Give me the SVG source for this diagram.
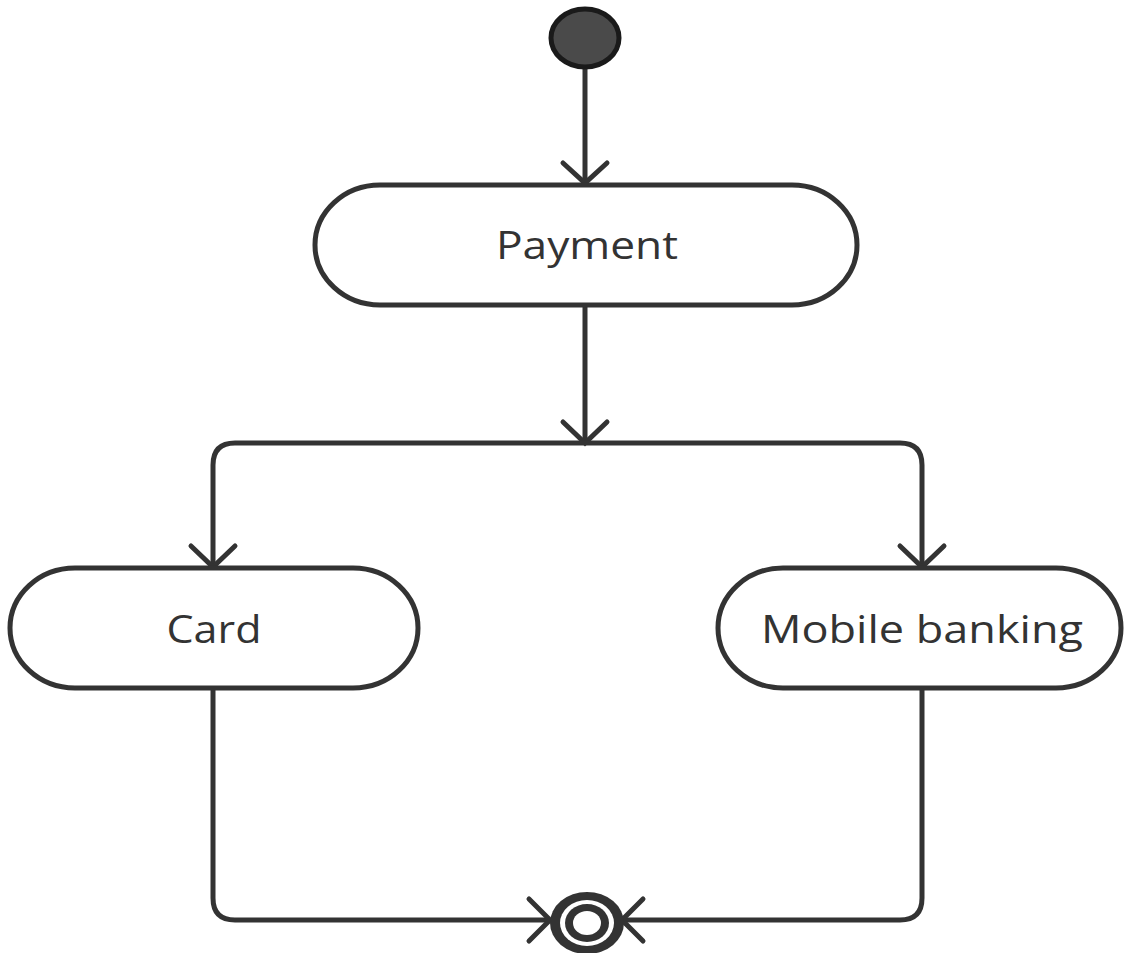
<svg xmlns="http://www.w3.org/2000/svg" width="1124" height="953" viewBox="0 0 1124 953">
  <style>
    .node { fill: #ffffff; stroke: #333333; stroke-width: 5; }
    .label { font-family: "Open Sans", "Noto Sans", sans-serif; font-size: 38px; fill: #333333; text-anchor: middle; }
    .edge { fill: none; stroke: #333333; stroke-width: 5; stroke-linejoin: round; }
    .head { fill: none; stroke: #333333; stroke-width: 5; stroke-linecap: round; stroke-linejoin: miter; }
  </style>
  <rect width="1124" height="953" fill="#ffffff"/>

  <g id="connectors">
    <!-- start to Payment -->
    <path class="edge" d="M585 68 V183"/>
    <polyline class="head" points="563,163 585,183 607,163"/>
    <!-- Payment to branch bar -->
    <path class="edge" d="M585 305 V443"/>
    <polyline class="head" points="563,422 585,443 607,422"/>
    <!-- branch to Card and Mobile banking -->
    <path class="edge" d="M585 443 H235 Q213 443 213 465 V566"/>
    <path class="edge" d="M585 443 H900 Q922 443 922 465 V566"/>
    <polyline class="head" points="191,546 213,567 235,546"/>
    <polyline class="head" points="900,546 922,567 944,546"/>
    <!-- Card to end -->
    <path class="edge" d="M213 688 V898 Q213 920 235 920 H550"/>
    <polyline class="head" points="529,899 550,920 529,941"/>
    <!-- Mobile banking to end -->
    <path class="edge" d="M922 688 V898 Q922 920 900 920 H622"/>
    <polyline class="head" points="643,899 622,920 643,941"/>
  </g>

  <g id="start">
    <ellipse cx="585" cy="38" rx="34" ry="29" fill="#4a4a4a" stroke="#1a1a1a" stroke-width="5"/>
  </g>

  <g id="payment">
    <rect class="node" x="315" y="185" width="542" height="120" rx="65" ry="60"/>
    <text class="label" x="587" y="259" textLength="182" lengthAdjust="spacingAndGlyphs">Payment</text>
  </g>

  <g id="card">
    <rect class="node" x="10" y="568" width="408" height="120" rx="65" ry="60"/>
    <text class="label" x="214" y="643" textLength="95" lengthAdjust="spacingAndGlyphs">Card</text>
  </g>

  <g id="mobile-banking">
    <rect class="node" x="718" y="568" width="403" height="120" rx="65" ry="60"/>
    <text class="label" x="922" y="643" textLength="322" lengthAdjust="spacingAndGlyphs">Mobile banking</text>
  </g>

  <g id="end">
    <ellipse cx="587" cy="923" rx="37" ry="31" fill="#333333"/>
    <ellipse cx="587" cy="923" rx="27" ry="23" fill="#ffffff"/>
    <ellipse cx="587" cy="923" rx="22" ry="19" fill="#333333"/>
    <ellipse cx="587" cy="923" rx="14" ry="12" fill="#ffffff"/>
  </g>
</svg>
